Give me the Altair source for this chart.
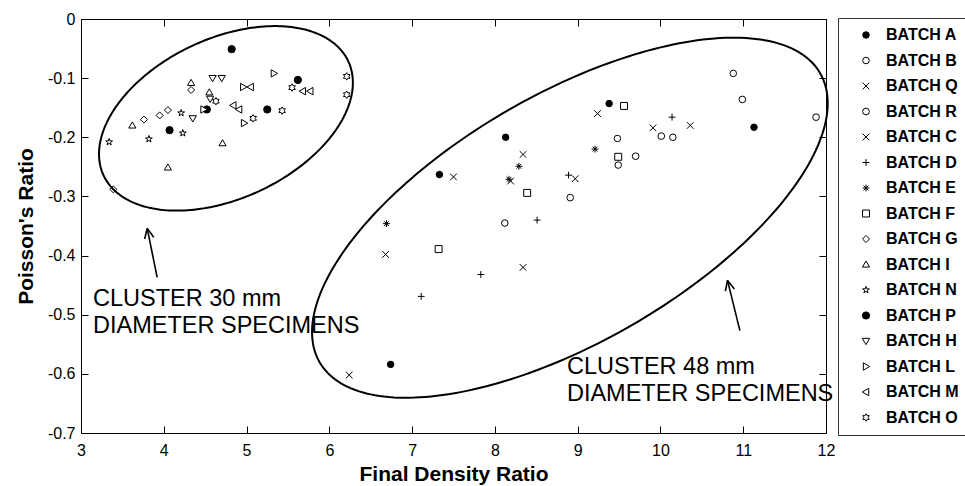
import math
import altair as alt
import pandas as pd

# ---------------- data ----------------
BATCHES = ["BATCH A", "BATCH B", "BATCH Q", "BATCH R", "BATCH C", "BATCH D",
           "BATCH E", "BATCH F", "BATCH G", "BATCH I", "BATCH N", "BATCH P",
           "BATCH H", "BATCH L", "BATCH M", "BATCH O"]

A_X = [9.38, 8.13, 11.13, 7.33, 6.74]
A_Y = [-0.143, -0.200, -0.183, -0.263, -0.584]
B_X = [10.88, 10.15, 9.48, 9.49, 8.12]
B_Y = [-0.092, -0.200, -0.202, -0.247, -0.345]
Q_X = [9.91, 8.34, 8.97, 10.36, 8.34]
Q_Y = [-0.184, -0.229, -0.270, -0.180, -0.420]
R_X = [10.01, 9.70, 8.91, 10.99, 11.88]
R_Y = [-0.198, -0.232, -0.302, -0.136, -0.166]
C_X = [9.24, 8.19, 7.50, 6.68, 6.24]
C_Y = [-0.160, -0.274, -0.267, -0.398, -0.602]
D_X = [10.14, 8.89, 7.83, 7.11, 8.51]
D_Y = [-0.166, -0.264, -0.432, -0.469, -0.340]
E_X = [9.21, 8.29, 8.17, 6.69]
E_Y = [-0.220, -0.249, -0.271, -0.346]
F_X = [9.56, 9.49, 8.39, 7.32]
F_Y = [-0.147, -0.233, -0.294, -0.389]
G_X = [4.33, 4.05, 3.95, 3.76, 3.39]
G_Y = [-0.120, -0.154, -0.163, -0.170, -0.288]
I_X = [4.33, 4.55, 3.62, 4.71, 4.05]
I_Y = [-0.108, -0.124, -0.180, -0.210, -0.251]
N_X = [4.21, 4.23, 3.82, 3.34]
N_Y = [-0.159, -0.193, -0.203, -0.208]
P_X = [4.82, 4.52, 4.07, 5.25, 5.62]
P_Y = [-0.051, -0.153, -0.188, -0.153, -0.103]
H_X = [4.59, 4.70, 4.35, 4.56]
H_Y = [-0.100, -0.100, -0.168, -0.135]
L_X = [5.33, 4.96, 4.97, 4.48]
L_Y = [-0.092, -0.115, -0.176, -0.153]
M_X = [4.84, 4.91, 5.05, 5.68, 5.77]
M_Y = [-0.146, -0.153, -0.115, -0.122, -0.122]
O_X = [4.63, 5.08, 5.43, 5.55, 6.21, 6.21]
O_Y = [-0.139, -0.168, -0.155, -0.116, -0.097, -0.128]

SERIES = {
    "BATCH A": (A_X, A_Y), "BATCH B": (B_X, B_Y), "BATCH Q": (Q_X, Q_Y),
    "BATCH R": (R_X, R_Y), "BATCH C": (C_X, C_Y), "BATCH D": (D_X, D_Y),
    "BATCH E": (E_X, E_Y), "BATCH F": (F_X, F_Y), "BATCH G": (G_X, G_Y),
    "BATCH I": (I_X, I_Y), "BATCH N": (N_X, N_Y), "BATCH P": (P_X, P_Y),
    "BATCH H": (H_X, H_Y), "BATCH L": (L_X, L_Y), "BATCH M": (M_X, M_Y),
    "BATCH O": (O_X, O_Y),
}

X_TICKS = [3, 4, 5, 6, 7, 8, 9, 10, 11, 12]
Y_TICKS = [0, -0.1, -0.2, -0.3, -0.4, -0.5, -0.6, -0.7]

# cluster ellipses: centre (data), semi-axes (px), rotation (deg)
ELLIPSES = [
    {"id": "e30", "cx": 4.751, "cy": -0.168, "a": 135, "b": 80, "rot": 25},
    {"id": "e48", "cx": 8.906, "cy": -0.336, "a": 289, "b": 124, "rot": 30},
]
# annotation arrows: tail -> tip (data)
ARROWS = [
    {"id": "a30", "tail": (3.92, -0.437), "tip": (3.80, -0.354)},
    {"id": "a48", "tail": (10.96, -0.527), "tip": (10.81, -0.442)},
]
LABELS_TEXT = ["CLUSTER 30 mm", "DIAMETER SPECIMENS", "CLUSTER 48 mm", "DIAMETER SPECIMENS"]
LABELS_X = [3.145, 3.145, 8.87, 8.87]
LABELS_Y = [-0.473, -0.519, -0.588, -0.634]

# ---------------- styling ----------------
W, H = 745, 414
PXX = W / 9.0      # px per x unit
PXY = H / 0.7      # px per y unit
FONT = "Liberation Sans"

CROSS = "M-1,-1L1,1M1,-1L-1,1"
PLUS = "M-1,0L1,0M0,-1L0,1"
ASTER = "M-1,0L1,0M0,-1L0,1M-0.7,-0.7L0.7,0.7M0.7,-0.7L-0.7,0.7"
STAR5 = ("M0,-1L0.225,-0.309L0.951,-0.309L0.363,0.118L0.588,0.809L0,0.382"
         "L-0.588,0.809L-0.363,0.118L-0.951,-0.309L-0.225,-0.309Z")
HEXA = ("M0,-1L0.289,-0.5L0.866,-0.5L0.577,0L0.866,0.5L0.289,0.5L0,1"
        "L-0.289,0.5L-0.866,0.5L-0.577,0L-0.866,-0.5L-0.289,-0.5Z")
TUP = "M0,-1L1,0.73L-1,0.73Z"
TDOWN = "M0,1L1,-0.73L-1,-0.73Z"
TRIGHT = "M1,0L-0.73,-1L-0.73,1Z"
TLEFT = "M-1,0L0.73,-1L0.73,1Z"

SHAPES = ["circle", "circle", CROSS, "circle", CROSS, PLUS, ASTER, "square",
          "diamond", TUP, STAR5, "circle", TDOWN, TRIGHT, TLEFT, HEXA]
FILLS = ["black", "white", "white", "white", "white",
         "white", "white", "white", "white", "white",
         "white", "black", "white", "white", "white", "white"]
STROKES = ["black"] * 16
SIZES = [42, 56, 36, 100, 90, 64, 56, 49, 130, 144, 110, 64, 144, 144, 144, 121]

# ---------------- tables ----------------
pts = pd.DataFrame([{"batch": b, "x": x, "y": y}
                    for b in BATCHES for x, y in zip(*SERIES[b])])

ell_rows = []
for e in ELLIPSES:
    th = math.radians(e["rot"])
    for k in range(241):
        t = 2 * math.pi * k / 240
        u, v = e["a"] * math.cos(t), e["b"] * math.sin(t)
        dx = u * math.cos(th) - v * math.sin(th)
        dy = u * math.sin(th) + v * math.cos(th)
        ell_rows.append({"id": e["id"], "k": k, "x": e["cx"] + dx / PXX, "y": e["cy"] + dy / PXY})
ell = pd.DataFrame(ell_rows)

arr_rows = []
for a in ARROWS:
    (x0, y0), (x1, y1) = a["tail"], a["tip"]
    arr_rows += [{"id": a["id"] + "s", "k": 0, "x": x0, "y": y0},
                 {"id": a["id"] + "s", "k": 1, "x": x1, "y": y1}]
    vx, vy = (x0 - x1) * PXX, (y0 - y1) * PXY
    n = math.hypot(vx, vy)
    vx, vy = vx / n, vy / n
    for j, ang in enumerate((25, -25)):
        r = math.radians(ang)
        wx = vx * math.cos(r) - vy * math.sin(r)
        wy = vx * math.sin(r) + vy * math.cos(r)
        arr_rows += [{"id": f"{a['id']}w{j}", "k": 0, "x": x1, "y": y1},
                     {"id": f"{a['id']}w{j}", "k": 1, "x": x1 + 11 * wx / PXX, "y": y1 + 11 * wy / PXY}]
arr = pd.DataFrame(arr_rows)

txt = pd.DataFrame({"t": LABELS_TEXT, "x": LABELS_X, "y": LABELS_Y})

# ---------------- chart ----------------
xs = alt.Scale(domain=[3, 12], nice=False, zero=False)
ys = alt.Scale(domain=[-0.7, 0], nice=False, zero=False)

y_label_expr = "datum.value == 0 ? '0' : '-0.' + format(round(-datum.value*10), 'd')"

x_axis = alt.Axis(values=X_TICKS, format="d", offset=-7, tickSize=7, domain=False,
                  grid=False, labelPadding=9, labelFontSize=16, labelFont=FONT,
                  labelColor="black", tickColor="black", labelFlush=False,
                  labelOverlap=False, title="Final Density Ratio", titleFont=FONT,
                  titleFontSize=21, titleFontWeight="bold", titleColor="black",
                  titlePadding=5)
y_axis = alt.Axis(values=Y_TICKS, labelExpr=y_label_expr, offset=-7, tickSize=7,
                  domain=False, grid=False, labelPadding=6, labelFontSize=16,
                  labelFont=FONT, labelColor="black", tickColor="black",
                  labelFlush=False, labelOverlap=False, title="Poisson's Ratio",
                  titleFont=FONT, titleFontSize=21, titleFontWeight="bold",
                  titleColor="black", titlePadding=11)
x_top = alt.Axis(values=X_TICKS, orient="top", offset=-7, tickSize=7, domain=False,
                 grid=False, labels=False, title=None, tickColor="black")
y_right = alt.Axis(values=Y_TICKS, orient="right", offset=-7, tickSize=7, domain=False,
                   grid=False, labels=False, title=None, tickColor="black")

legend = alt.Legend(title=None, orient="none", legendX=757, legendY=-1,
                    strokeColor="#333333", fillColor="white", padding=9,
                    rowPadding=9.5, symbolOffset=11, labelOffset=12,
                    labelFont=FONT, labelFontSize=16, labelFontWeight="bold",
                    labelColor="black", symbolStrokeColor="black",
                    symbolStrokeWidth=1, labelLimit=200)

points = alt.Chart(pts).mark_point(strokeWidth=1, opacity=1).encode(
    x=alt.X("x:Q", scale=xs, axis=x_axis),
    y=alt.Y("y:Q", scale=ys, axis=y_axis),
    shape=alt.Shape("batch:N", scale=alt.Scale(domain=BATCHES, range=SHAPES), legend=legend),
    fill=alt.Fill("batch:N", scale=alt.Scale(domain=BATCHES, range=FILLS), legend=legend),
    stroke=alt.Stroke("batch:N", scale=alt.Scale(domain=BATCHES, range=STROKES), legend=legend),
    size=alt.Size("batch:N", scale=alt.Scale(domain=BATCHES, range=SIZES), legend=legend),
)

ellipses = alt.Chart(ell).mark_line(color="black", strokeWidth=2).encode(
    x=alt.X("x:Q", scale=xs, axis=x_top),
    y=alt.Y("y:Q", scale=ys, axis=y_right),
    detail="id:N",
    order="k:Q",
)

arrows = alt.Chart(arr).mark_line(color="black", strokeWidth=1.6).encode(
    x=alt.X("x:Q", scale=xs, axis=None),
    y=alt.Y("y:Q", scale=ys, axis=None),
    detail="id:N",
    order="k:Q",
)

texts = alt.Chart(txt).mark_text(align="left", baseline="middle", font=FONT,
                                 fontSize=23.5, color="black").encode(
    x=alt.X("x:Q", scale=xs, axis=None),
    y=alt.Y("y:Q", scale=ys, axis=None),
    text="t:N",
)

chart = alt.layer(points, ellipses, arrows, texts).resolve_axis(
    x="independent", y="independent"
).properties(
    width=W, height=H,
    autosize=alt.AutoSizeParams(type="none"),
    padding={"left": 81, "top": 19, "right": 139, "bottom": 53},
    background="white",
).configure_view(stroke="black", strokeWidth=1)

chart.save("out.html", embed_options={"renderer": "svg", "actions": False})
